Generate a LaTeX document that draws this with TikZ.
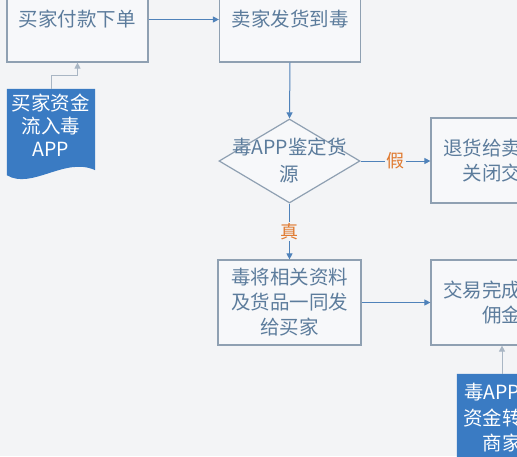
\documentclass[tikz,border=0pt]{standalone}
\usepackage{fontspec}
\setmainfont{Noto Sans CJK SC}
\usetikzlibrary{arrows.meta,shapes.geometric,backgrounds,calc}
\definecolor{bgc}{HTML}{F3F4F6}
\definecolor{boxfill}{HTML}{F7F8FA}
\definecolor{boxline}{HTML}{8FA0B2}
\definecolor{boxtext}{HTML}{5C7C9C}
\definecolor{arrowc}{HTML}{4F82BA}
\definecolor{docfill}{HTML}{3A7BC3}
\definecolor{labc}{HTML}{E07A30}
\definecolor{lightarrow}{HTML}{A9B6C4}
\begin{document}
\begin{tikzpicture}[x=1pt,y=-1pt,
  proc/.style={draw=boxline, line width=1.2pt, fill=boxfill, minimum width=141pt, minimum height=85pt,
    text=boxtext, font=\fontsize{19.5}{25}\selectfont, align=center, inner sep=0pt},
  dec/.style={diamond, draw=boxline, line width=1.2pt, fill=boxfill, minimum width=141pt, minimum height=84pt, inner sep=0pt},
  dtext/.style={text=boxtext, font=\fontsize{19.5}{27}\selectfont, align=center, inner sep=0pt},
  docnode/.style={text=white, font=\fontsize{19.5}{23}\selectfont, align=center, inner sep=0pt},
  flow/.style={draw=arrowc, line width=1pt, -{Triangle[length=6pt,width=6pt]}},
  flowlight/.style={draw=lightarrow, line width=1pt, -{Triangle[length=6pt,width=6pt]}},
  lab/.style={fill=bgc, text=labc, font=\fontsize{18}{20}\selectfont, inner sep=1.5pt}
]
\useasboundingbox (0,0) rectangle (517,456);
\begin{pgfonlayer}{background}
\fill[bgc] (0,0) rectangle (517,456);
\end{pgfonlayer}

\node[proc] (b1) at (77.5,19.5) {买家付款下单};
\node[proc] (b2) at (290,19.5) {卖家发货到毒};
\node[dec] (d) at (289.5,161) {};
\node[dtext] (dt) at (d.center) {毒APP鉴定货\\源};
\node[proc] (f) at (501.5,160.5) {退货给卖家，\\关闭交易};
\node[proc, minimum width=143pt] (b3) at (289.5,302.5) {毒将相关资料\\及货品一同发\\给买家};
\node[proc] (b4) at (501.5,302.5) {交易完成扣除\\佣金};
\node[docnode, minimum width=88pt, minimum height=72pt] (doc1) at (51,125) {买家资金\\流入毒\\APP};
\node[docnode, font=\fontsize{19.5}{25.5}\selectfont, minimum width=90pt, minimum height=88pt] (doc2) at (502,418) {毒APP将\\资金转给\\商家};

\begin{pgfonlayer}{background}
\fill[docfill] (doc1.north west) -- ($(doc1.south west)+(0,14)$)
  .. controls +(25,15) and +(-30,-14) .. ($(doc1.south east)+(0,9)$)
  -- (doc1.north east) -- cycle;
\fill[docfill] (doc2.north west) -- (doc2.south west) -- ++(0,10) -| (doc2.north east) -- cycle;
\end{pgfonlayer}

\draw[flow] (b1.east) -- (b2.west);
\draw[flow] (b2.south) -- (d.north);
\draw[flow] (d.east) -- node[lab] {假} (d.east -| f.west);
\draw[flow] (d.south) -- node[lab] {真} (b3.north);
\draw[flow] (b3.east) -- (b4.west);
\draw[flowlight] (doc1.north) -- ++(0,-13.5) -| (b1.south);
\draw[flowlight] (doc2.north) -- (doc2.north |- b4.south);
\end{tikzpicture}
\end{document}
